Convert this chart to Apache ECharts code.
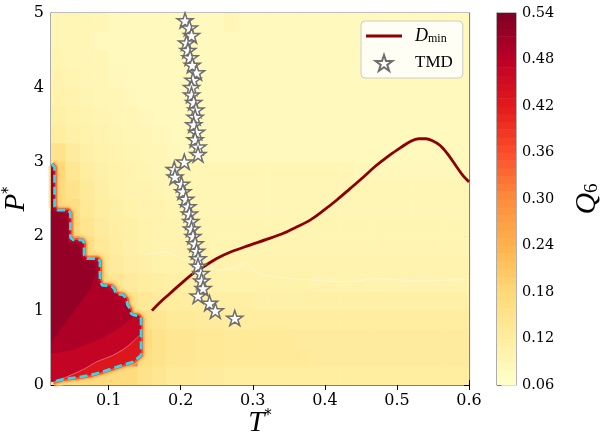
<!DOCTYPE html>
<html>
<head>
<meta charset="utf-8">
<script src="https://cdn.jsdelivr.net/npm/echarts@6/dist/echarts.min.js"></script>
<style>
html, body { margin: 0; padding: 0; background: #fff; }
#chart { width: 606px; height: 438px; }
</style>
</head>
<body>
<div id="chart"></div>
<script>
// cell centres of the Q6 map
const tCells = [0.03, 0.05, 0.07, 0.09, 0.11, 0.13, 0.15, 0.17, 0.19, 0.21, 0.23, 0.25, 0.27, 0.29, 0.31,
  0.33, 0.35, 0.37, 0.39, 0.41, 0.43, 0.45, 0.47, 0.49, 0.51, 0.53, 0.55, 0.57, 0.59]
const pCells = [0.125, 0.375, 0.625, 0.875, 1.125, 1.375, 1.625, 1.875, 2.125, 2.375,
  2.625, 2.875, 3.125, 3.375, 3.625, 3.875, 4.125, 4.375, 4.625, 4.875]

// Q6 x 100, rows from P*=5 (top) down to P*=0
const q6Rows = [
  [9, 9, 9, 9, 8, 8, 8, 8, 8, 8, 8, 8, 9, 8, 8, 8, 8, 8, 8, 8, 8, 8, 8, 8, 8, 8, 8, 8, 8],
  [9, 9, 9, 8, 8, 8, 8, 8, 8, 8, 8, 8, 8, 8, 8, 8, 8, 8, 8, 8, 8, 8, 8, 8, 8, 8, 8, 8, 8],
  [9.5, 9, 9, 9, 8, 8, 8, 8, 8, 8, 8, 8, 8, 8, 8, 8, 8, 8, 8, 8, 8, 8, 8, 8, 8, 8, 8, 8, 8],
  [10, 9.5, 9, 9, 8.5, 8, 8, 8, 8, 8, 8, 8, 8, 8, 8, 8, 8, 8, 8, 8, 8, 8, 8, 8, 8, 8, 8, 8, 8],
  [10.5, 10, 9.5, 9, 9, 8.5, 8, 8, 8, 8, 8, 8, 8, 8, 8, 8, 8, 8, 8, 8, 8, 8, 8, 8, 8, 8, 8, 8, 8],
  [11, 10.5, 10, 9.5, 9, 9, 8.5, 8, 8, 8, 8, 8, 8, 8, 8, 8, 8, 8, 8, 8, 8, 8, 8, 8, 8, 8, 8, 8, 8],
  [12, 11, 10.5, 10, 9.5, 9, 9, 8.5, 8, 8, 8, 8, 8, 8, 8, 8, 8, 8, 8, 8, 8, 8, 8, 8, 8, 8, 8, 8, 8],
  [15, 12.5, 11, 10.5, 10, 9.5, 9, 9, 8.5, 8, 8, 8, 8, 8, 8, 8, 8, 8, 8, 8, 8, 8, 8, 8, 8, 8, 8, 8, 8],
  [18, 14, 12, 11, 10.5, 10, 9.5, 9, 9, 9, 9, 9, 9, 9, 9, 9, 9, 9, 9, 9, 9, 8.5, 8.5, 8.5, 8.5, 8.5, 8.5, 8.5, 8.5],
  [17, 15, 13, 11.5, 10.5, 10, 10, 9.5, 9, 9, 9, 9, 9, 9, 9, 9, 9, 9, 9, 9, 9, 9, 9, 9, 9, 9, 9, 9, 9],
  [17, 16, 13.5, 12, 11, 10.5, 10, 10, 9.5, 9.5, 9, 9, 9, 9, 9, 9, 9, 9, 9, 9, 9, 9, 9, 9, 9, 9, 9, 9, 9],
  [44, 17, 14.5, 12.5, 11.5, 11, 10.5, 10, 10, 9.5, 9.5, 9.5, 9.5, 9.5, 9.5, 9.5, 9.5, 9.5, 9.5, 9.5, 9.5, 9.5, 9.5, 9.5, 9.5, 9.5, 9.5, 9.5, 9.5],
  [44, 44, 16, 13.5, 12, 11, 10.5, 10, 10, 10, 10, 9.5, 9.5, 9.5, 9.5, 9.5, 9.5, 9.5, 9.5, 9.5, 9.5, 9.5, 9.5, 9.5, 9.5, 9.5, 9.5, 9.5, 9.5],
  [44, 44, 17, 14.5, 12.5, 11.5, 11, 10.5, 10.5, 10.5, 10, 10, 10, 10, 10, 10, 10, 10, 10, 10, 10, 10, 10, 10, 10, 10, 10, 10, 10],
  [44, 44, 44, 16, 14, 12.5, 12, 11.5, 11, 11, 11, 10.5, 10.5, 10.5, 10.5, 10.5, 10.5, 10.5, 10, 10, 10, 10, 10, 10, 10, 10, 10, 10, 10],
  [44, 44, 44, 44, 17, 15, 13.5, 12.5, 12, 12, 11.5, 11.5, 11.5, 11.5, 11, 11, 11, 11, 11, 11, 11, 11, 11, 11, 11, 11, 11, 11, 11],
  [44, 44, 44, 44, 44, 18, 15, 14, 13, 13, 12.5, 12.5, 12, 12, 12, 12, 12, 12, 12, 12, 12, 12, 12, 12, 12, 12, 12, 12, 12],
  [44, 44, 44, 44, 44, 44, 17, 15, 14, 14, 13.5, 13.5, 13, 13, 13, 13, 13, 12.5, 12.5, 12.5, 12.5, 12.5, 12.5, 12.5, 12.5, 12.5, 12.5, 12.5, 12.5],
  [44, 44, 44, 44, 44, 44, 16, 15, 14, 14, 13.5, 13.5, 13, 13, 13, 13, 13, 13, 12.5, 12.5, 12.5, 12.5, 12.5, 12.5, 12.5, 12.5, 12.5, 12.5, 12.5],
  [15, 16, 17, 17, 17, 17, 15, 14, 13, 13, 12.5, 12.5, 12, 12, 12, 12, 12, 12, 12, 12, 12, 12, 12, 12, 12, 12, 12, 12, 12]
]

// BCC phase boundary (cyan dashed), [T*, P*]
const bccBoundary = [
  [0.021, 2.97], [0.025, 2.93], [0.025, 2.40], [0.029, 2.35], [0.044, 2.35], [0.047, 2.31],
  [0.047, 1.98], [0.051, 1.95], [0.063, 1.95], [0.066, 1.91], [0.066, 1.74], [0.070, 1.70],
  [0.085, 1.70], [0.088, 1.66], [0.088, 1.41], [0.091, 1.34], [0.104, 1.33], [0.108, 1.29],
  [0.110, 1.23], [0.120, 1.21], [0.125, 1.16], [0.126, 1.08], [0.130, 1.02], [0.131, 0.96],
  [0.135, 0.94], [0.142, 0.93], [0.145, 0.89], [0.145, 0.40], [0.134, 0.31], [0.120, 0.27],
  [0.0925, 0.18], [0.074, 0.13], [0.0555, 0.10], [0.037, 0.08], [0.023, 0.04]
]
// nested high-Q6 bands inside the BCC region
const redMid = [
  [0.021, 2.97], [0.025, 2.93], [0.025, 2.40], [0.029, 2.35], [0.044, 2.35], [0.047, 2.31],
  [0.047, 1.98], [0.051, 1.95], [0.063, 1.95], [0.066, 1.91], [0.066, 1.74], [0.070, 1.70],
  [0.085, 1.70], [0.088, 1.66], [0.088, 1.41], [0.091, 1.34], [0.104, 1.33], [0.108, 1.29],
  [0.110, 1.23], [0.120, 1.21], [0.125, 1.16], [0.126, 1.08], [0.130, 1.02], [0.131, 0.96],
  [0.135, 0.94], [0.142, 0.93], [0.145, 0.89], [0.145, 0.67], [0.125, 0.51], [0.106, 0.40],
  [0.083, 0.31], [0.065, 0.21], [0.042, 0.11], [0.023, 0.05], [0.02, 0.05]
]
const redInner = [
  [0.02, 0.42], [0.05, 0.47], [0.09, 0.62], [0.12, 0.80], [0.135, 0.92], [0.126, 1.06],
  [0.112, 1.20], [0.095, 1.31], [0.085, 1.40], [0.084, 1.66], [0.064, 1.70], [0.062, 1.91],
  [0.045, 1.93], [0.044, 2.31], [0.024, 2.35], [0.023, 2.90], [0.02, 2.93]
]
const redCore = [
  [0.02, 0.58], [0.03, 0.70], [0.045, 0.90], [0.06, 1.10], [0.075, 1.30], [0.082, 1.50],
  [0.081, 1.64], [0.063, 1.67], [0.060, 1.89], [0.044, 1.91], [0.042, 2.29], [0.024, 2.33],
  [0.022, 2.86], [0.02, 2.89]
]
const redLevels = [0.43, 0.47, 0.495, 0.52]

// faint contour lines
const contourRed = [[0.023, 0.03], [0.042, 0.11], [0.065, 0.21], [0.083, 0.31], [0.106, 0.40], [0.125, 0.51], [0.143, 0.67]]
const contour010 = [[0.15, 1.75], [0.173, 1.79], [0.207, 1.68], [0.25, 1.55], [0.275, 1.58], [0.29, 1.64],
  [0.307, 1.50], [0.38, 1.41], [0.44, 1.39], [0.47, 1.43], [0.53, 1.40], [0.60, 1.42]]

// D_min line
const dminT = [0.16, 0.17, 0.185, 0.20, 0.2175, 0.235, 0.25, 0.27, 0.296, 0.32, 0.3425, 0.36, 0.38, 0.40, 0.417,
  0.435, 0.454, 0.47, 0.49, 0.505, 0.518, 0.53, 0.54, 0.55, 0.56, 0.57, 0.583, 0.592, 0.60]
const dminP = [1.00, 1.10, 1.23, 1.36, 1.50, 1.61, 1.70, 1.79, 1.88, 1.96, 2.04, 2.12, 2.22, 2.36, 2.49,
  2.64, 2.80, 2.94, 3.09, 3.19, 3.27, 3.31, 3.31, 3.28, 3.22, 3.11, 2.93, 2.81, 2.73]

// TMD points
const tmdP = [4.9, 4.8, 4.7, 4.6, 4.5, 4.4, 4.3, 4.2, 4.1, 4.0, 3.9, 3.8, 3.7, 3.6, 3.5, 3.4, 3.3, 3.2, 3.1, 3.0,
  2.9, 2.8, 2.7, 2.6, 2.5, 2.4, 2.3, 2.2, 2.1, 2.0, 1.9, 1.8, 1.7, 1.6, 1.5, 1.4, 1.3, 1.2, 1.1, 1.0, 0.9]
const tmdT = [0.206, 0.212, 0.215, 0.208, 0.210, 0.213, 0.216, 0.222, 0.217, 0.215, 0.215, 0.218, 0.221, 0.220,
  0.218, 0.222, 0.220, 0.224, 0.224, 0.205, 0.191, 0.192, 0.201, 0.203, 0.207, 0.210, 0.212, 0.214, 0.215,
  0.217, 0.220, 0.222, 0.224, 0.224, 0.228, 0.229, 0.231, 0.224, 0.240, 0.248, 0.275]

// axis ticks
const tTicks = [0.1, 0.2, 0.3, 0.4, 0.5, 0.6]
const cbLevels = [0.06, 0.07, 0.08, 0.09, 0.10, 0.11, 0.12, 0.13, 0.14, 0.15, 0.16, 0.17, 0.18, 0.19, 0.20,
  0.21, 0.22, 0.23, 0.24, 0.25, 0.26, 0.27, 0.28, 0.29, 0.30, 0.31, 0.32, 0.33, 0.34, 0.35, 0.36, 0.37,
  0.38, 0.39, 0.40, 0.41, 0.42, 0.43, 0.44, 0.45, 0.46, 0.47, 0.48, 0.49, 0.50, 0.51, 0.52, 0.53]

const ylOrRd = ['#ffffcc', '#ffeda0', '#fed976', '#feb24c', '#fd8d3c', '#fc4e2a', '#e31a1c', '#bd0026', '#800026']
const starPath = 'path://M50 0L61.23 34.55L97.55 34.55L68.17 55.9L79.39 90.45L50 69.1L20.61 90.45L31.83 55.9L2.45 34.55L38.77 34.55Z'

const cellData = []
q6Rows.forEach((row, r) => {
  row.forEach((v, c) => cellData.push([tCells[c], pCells[pCells.length - 1 - r], v / 100]))
})
const redPolys = [bccBoundary.concat([[0.02, 0.04], [0.02, 2.97]]), redMid, redInner, redCore]

const tickLabel = { color: '#000', fontFamily: 'DejaVu Serif', fontSize: 16 }
const frameLine = { show: true, lineStyle: { color: '#808080', width: 1.2 } }
const inTick = { show: true, inside: true, length: 5, lineStyle: { color: '#000', width: 1 } }
const starRich = {
  i: { fontFamily: 'Liberation Serif', fontStyle: 'italic', fontSize: 29, color: '#000' },
  s: { fontFamily: 'DejaVu Sans', fontSize: 15, color: '#000', verticalAlign: 'top' }
}

const chart = echarts.init(document.getElementById('chart'))
chart.setOption({
  animation: false,
  grid: [
    { left: 51, top: 13, width: 418, height: 372, show: true, borderColor: '#808080', borderWidth: 1.2, outerBoundsMode: 'none', containLabel: false },
    { left: 497, top: 13, width: 19, height: 372, show: true, borderColor: '#808080', borderWidth: 1.2, outerBoundsMode: 'none', containLabel: false }
  ],
  xAxis: [
    {
      type: 'value', gridIndex: 0, min: 0.02, max: 0.6, position: 'bottom',
      axisLine: frameLine, splitLine: { show: false },
      axisTick: Object.assign({ customValues: tTicks }, inTick),
      axisLabel: Object.assign({ customValues: tTicks, margin: 8 }, tickLabel),
      name: '{i|T}{s|*}', nameLocation: 'middle', nameGap: 24, nameMoveOverlap: false,
      nameTextStyle: { rich: starRich }
    },
    {
      type: 'value', gridIndex: 0, min: 0.02, max: 0.6, position: 'top',
      axisLine: frameLine, splitLine: { show: false },
      axisTick: Object.assign({ customValues: tTicks }, inTick),
      axisLabel: { show: false }
    },
    { type: 'value', gridIndex: 1, min: 0, max: 1, show: false }
  ],
  yAxis: [
    {
      type: 'value', gridIndex: 0, min: 0, max: 5, interval: 1, position: 'left',
      axisLine: frameLine, splitLine: { show: false }, axisTick: inTick,
      axisLabel: Object.assign({ margin: 7 }, tickLabel),
      name: '{i|P}{s|*}', nameLocation: 'middle', nameGap: 20, nameRotate: 90, nameMoveOverlap: false,
      nameTextStyle: { rich: starRich }
    },
    {
      type: 'value', gridIndex: 0, min: 0, max: 5, interval: 1, position: 'right',
      axisLine: frameLine, splitLine: { show: false }, axisTick: inTick, axisLabel: { show: false }
    },
    {
      type: 'value', gridIndex: 1, min: 0.06, max: 0.54, interval: 0.06, position: 'right',
      axisLine: frameLine, splitLine: { show: false },
      axisTick: { show: true, inside: false, length: 4.5, lineStyle: { color: '#000', width: 1 } },
      axisLabel: { color: '#000', fontFamily: 'DejaVu Serif', fontSize: 14.5, margin: 6, formatter: v => v.toFixed(2) },
      name: '{q|Q}{s|6}', nameLocation: 'middle', nameGap: 56, nameRotate: 90, nameMoveOverlap: false,
      nameTextStyle: {
        rich: {
          q: { fontFamily: 'Liberation Serif', fontStyle: 'italic', fontSize: 30, color: '#000' },
          s: { fontFamily: 'Liberation Serif', fontSize: 19, color: '#000', verticalAlign: 'bottom' }
        }
      }
    }
  ],
  visualMap: {
    type: 'continuous', show: false, min: 0.06, max: 0.54, dimension: 2,
    seriesIndex: [0, 4, 11], inRange: { color: ylOrRd }
  },
  legend: {
    data: [{ name: 'Dmin', icon: 'path://M0 0L36 0L36 3L0 3Z' }, { name: 'TMD' }],
    orient: 'vertical', left: 361, top: 21,
    itemWidth: 36, itemHeight: 16, itemGap: 9, padding: [6, 10, 6, 5],
    backgroundColor: 'rgba(255,255,255,0.85)', borderColor: '#cccccc', borderWidth: 1, borderRadius: 4,
    formatter: n => (n === 'Dmin' ? '{i|D}{sub|min}' : '{r|TMD}'),
    textStyle: {
      padding: [0, 0, 0, 8],
      rich: {
        i: { fontFamily: 'Liberation Serif', fontStyle: 'italic', fontSize: 18, color: '#000' },
        sub: { fontFamily: 'Liberation Serif', fontSize: 12, color: '#000', verticalAlign: 'bottom', padding: [6, 0, 0, 0] },
        r: { fontFamily: 'Liberation Serif', fontSize: 17, color: '#000' }
      }
    }
  },
  series: [
    {
      type: 'custom', xAxisIndex: 0, yAxisIndex: 0, data: cellData, encode: { x: 0, y: 1 },
      silent: true, clip: true, z: 1,
      renderItem: (params, api) => {
        const a = api.coord([api.value(0) - 0.01, api.value(1) + 0.125])
        const b = api.coord([api.value(0) + 0.01, api.value(1) - 0.125])
        return { type: 'rect', shape: { x: a[0], y: a[1], width: b[0] - a[0] + 0.6, height: b[1] - a[1] + 0.6 }, style: { fill: api.visual('color') } }
      }
    },
    { type: 'line', data: bccBoundary, symbol: 'none', silent: true, z: 2, clip: true, lineStyle: { width: 12, color: '#fecf78', opacity: 0.6 } },
    { type: 'line', data: bccBoundary, symbol: 'none', silent: true, z: 2, clip: true, lineStyle: { width: 7, color: '#fda64a', opacity: 0.85 } },
    { type: 'line', data: bccBoundary, symbol: 'none', silent: true, z: 2, clip: true, lineStyle: { width: 4, color: '#f2502a' } },
    {
      type: 'custom', xAxisIndex: 0, yAxisIndex: 0, encode: { x: 0, y: 1 }, silent: true, clip: true, z: 3,
      data: redPolys.map((pts, i) => [pts[0][0], pts[0][1], redLevels[i], i]),
      renderItem: (params, api) => ({
        type: 'polygon',
        shape: { points: redPolys[api.value(3)].map(p => api.coord(p)) },
        style: { fill: api.visual('color') }
      })
    },
    { type: 'line', data: contourRed, symbol: 'none', silent: true, z: 3, smooth: 0.3, lineStyle: { width: 0.8, color: '#ffffff', opacity: 0.45 } },
    { type: 'line', data: contour010, symbol: 'none', silent: true, z: 3, smooth: 0.3, lineStyle: { width: 0.8, color: '#ffffff', opacity: 0.5 } },
    { type: 'line', data: bccBoundary, symbol: 'none', silent: true, z: 4, lineStyle: { width: 2.8, color: '#2fd8ea', type: [8, 4] } },
    {
      type: 'scatter', data: [[0.145, 0.56]], symbol: 'circle', symbolSize: 1, itemStyle: { opacity: 0 }, silent: true, z: 5,
      label: { show: true, position: 'inside', formatter: 'BCC', rotate: 90, color: 'rgba(80,190,205,0.85)', fontFamily: 'DejaVu Serif', fontSize: 9 }
    },
    {
      name: 'Dmin', type: 'line', data: dminT.map((t, i) => [t, dminP[i]]), symbol: 'none', smooth: 0.35, z: 5,
      lineStyle: { width: 2.8, color: '#8b0000' }, itemStyle: { color: '#8b0000' }
    },
    {
      name: 'TMD', type: 'scatter', data: tmdT.map((t, i) => [t, tmdP[i]]), symbol: starPath, symbolKeepAspect: true,
      symbolSize: 16, z: 6, itemStyle: { color: '#ffffff', borderColor: '#6e6e6e', borderWidth: 1.5, opacity: 1 }
    },
    {
      type: 'custom', xAxisIndex: 2, yAxisIndex: 2, encode: { x: 0, y: 1 }, silent: true,
      data: cbLevels.map(l => [0, l, l + 0.005]),
      renderItem: (params, api) => {
        const a = api.coord([0, api.value(1) + 0.01])
        const b = api.coord([1, api.value(1)])
        return { type: 'rect', shape: { x: a[0], y: a[1], width: b[0] - a[0], height: b[1] - a[1] + 0.5 }, style: { fill: api.visual('color') } }
      }
    }
  ]
})
</script>
</body>
</html>
